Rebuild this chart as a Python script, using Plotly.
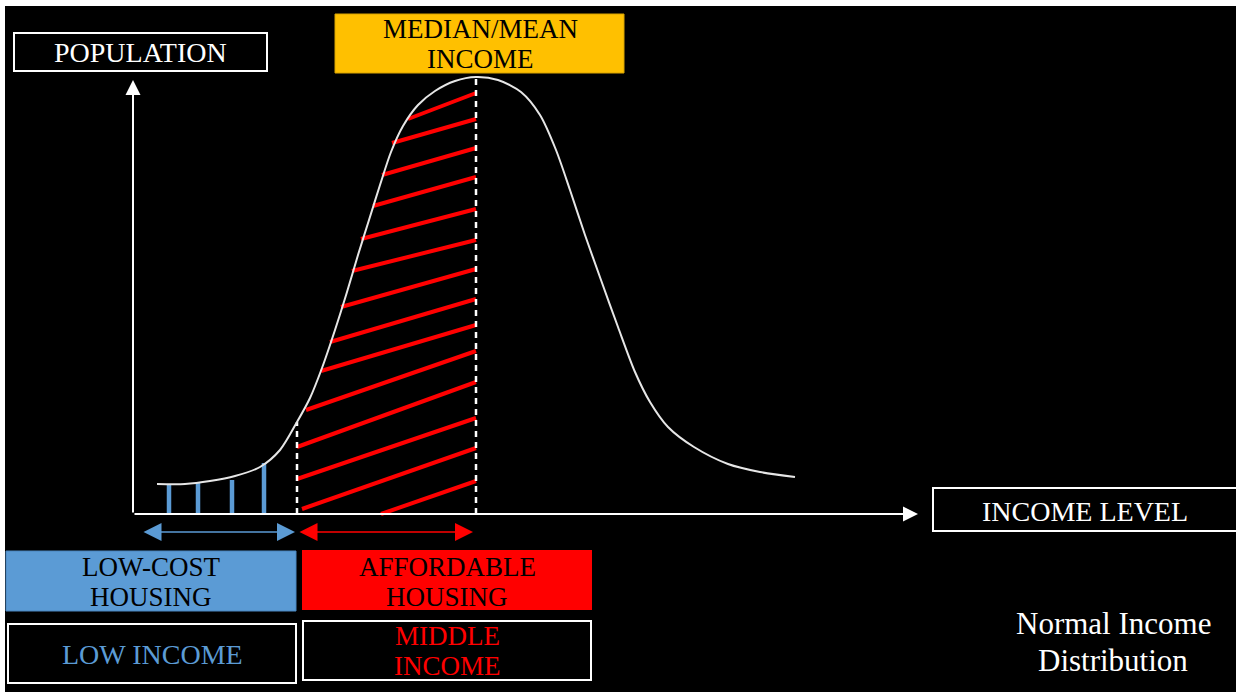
import numpy as np
import plotly.graph_objects as go

# ---------------- data (income level vs population, arbitrary units) ----------------
curve_income = [24, 52, 77, 102, 127, 147, 164, 177, 189, 202, 214, 225, 236, 247, 258,
                270, 285, 302, 322, 343, 365, 388, 407, 423, 437, 452, 468, 485, 502,
                517, 535, 561, 595, 627, 662]
curve_population = [30, 30, 33, 38, 47, 64, 92, 116, 146, 184, 222, 259, 294, 329, 362,
                    388, 409, 423, 433, 437, 434, 422, 399, 364, 324, 279, 234, 187, 142,
                    112, 87, 67, 50, 42, 37]

median_income = 343          # median / mean income
low_income_limit = 164       # boundary between low and middle income

# hatching of the middle-income band: start point (income, population) and end population at median
hatch_x0 = [275, 259, 249, 240, 228, 219, 208, 197, 188, 173, 164, 164, 169, 248]
hatch_y0 = [395, 371, 339, 308, 275, 243, 207, 172, 143, 104, 67, 35, 5, 0]
hatch_y1 = [421, 395, 366, 337, 305, 274, 245, 215, 189, 163, 132, 96, 66, 33]

# low-income bars
bar_income = [36, 65, 99, 131]
bar_population = [29, 31, 34, 51]

# ---------------- helpers to place decorations (screen px -> data coords) ----------------
OX, OY = 133, 514


def X(px):
    return px - OX


def Y(py):
    return OY - py


BLUE = "#5B9BD5"
RED = "#FF0000"
GOLD = "#FFC000"
FONT = "Liberation Serif"

fig = go.Figure()

# hatch lines
hx, hy = [], []
for x0, y0, y1 in zip(hatch_x0, hatch_y0, hatch_y1):
    hx += [x0, median_income, None]
    hy += [y0, y1, None]
fig.add_trace(go.Scatter(x=hx, y=hy, mode="lines", line=dict(color=RED, width=4),
                         hoverinfo="skip"))

# blue bars
bx, by = [], []
for x, h in zip(bar_income, bar_population):
    bx += [x, x, None]
    by += [-1, h, None]
fig.add_trace(go.Scatter(x=bx, y=by, mode="lines", line=dict(color=BLUE, width=4.5),
                         hoverinfo="skip"))

# dashed lines
top_low = float(np.interp(low_income_limit, curve_income, curve_population))
top_med = float(np.interp(median_income, curve_income, curve_population))
fig.add_trace(go.Scatter(x=[low_income_limit, low_income_limit], y=[0, top_low], mode="lines",
                         line=dict(color="white", width=2.5, dash="6px,5px"), hoverinfo="skip"))
fig.add_trace(go.Scatter(x=[median_income, median_income], y=[0, top_med], mode="lines",
                         line=dict(color="white", width=2.5, dash="6px,5px"), hoverinfo="skip"))

# distribution curve
fig.add_trace(go.Scatter(x=curve_income, y=curve_population, mode="lines",
                         line=dict(color="#E6E6E6", width=2, shape="spline", smoothing=0.8),
                         hoverinfo="skip"))

shapes = [
    # black slide background
    dict(type="rect", xref="paper", yref="paper", x0=5 / 1241, x1=1236 / 1241, y0=0,
         y1=(692 - 6) / 692, fillcolor="black", line=dict(width=0), layer="below"),
    # boxes
    dict(type="rect", x0=X(14), x1=X(267), y0=Y(33), y1=Y(71), line=dict(color="white", width=2)),
    dict(type="rect", x0=X(335), x1=X(624), y0=Y(14), y1=Y(73), fillcolor=GOLD,
         line=dict(color="#D9A300", width=1), layer="below"),
    dict(type="rect", x0=X(933), x1=X(1237), y0=Y(488), y1=Y(531), line=dict(color="white", width=2)),
    dict(type="rect", x0=X(6), x1=X(296), y0=Y(551), y1=Y(611), fillcolor=BLUE,
         line=dict(color="#4A86BF", width=1), layer="below"),
    dict(type="rect", x0=X(302), x1=X(592), y0=Y(550), y1=Y(610), fillcolor=RED,
         line=dict(width=0), layer="below"),
    dict(type="rect", x0=X(8), x1=X(296), y0=Y(624), y1=Y(683), line=dict(color="white", width=2)),
    dict(type="rect", x0=X(303), x1=X(591), y0=Y(621), y1=Y(680), line=dict(color="white", width=2)),
]

annotations = []


def label(text, px, py, color, size=27):
    annotations.append(dict(text=text, x=X(px), y=Y(py), showarrow=False, xanchor="center",
                            yanchor="middle", font=dict(family=FONT, size=size, color=color)))


label("POPULATION", 140, 52, "white", 28)
label("MEDIAN/MEAN", 480, 28.5, "black")
label("INCOME", 480, 59, "black")
label("INCOME LEVEL", 1085, 511, "white", 28)
label("LOW-COST", 151, 566.5, "black")
label("HOUSING", 151, 597, "black")
label("AFFORDABLE", 447, 566.5, "black")
label("HOUSING", 447, 597, "black")
label("LOW INCOME", 152, 654, BLUE, 28)
label("MIDDLE", 447, 635.5, RED)
label("INCOME", 447, 666, RED)
label("Normal Income", 1113, 623, "white", 31)
label("Distribution", 1113, 660, "white", 31)


def arrow(x0, y0, x1, y1, color, width, size, side="end"):
    annotations.append(dict(x=x1, y=y1, ax=x0, ay=y0, xref="x", yref="y", axref="x", ayref="y",
                            text="", showarrow=True, arrowhead=2, startarrowhead=2,
                            arrowsize=size, startarrowsize=size, arrowwidth=width,
                            arrowcolor=color, arrowside=side, standoff=0, startstandoff=0))


# axes
arrow(0, 0, 0, Y(80), "white", 2, 1.5)
arrow(0, 0, X(918), 0, "white", 2, 1.5)
# range arrows
arrow(X(142), Y(532), X(295), Y(532), BLUE, 1.5, 2.4, "end+start")
arrow(X(298), Y(532), X(473), Y(532), RED, 1.5, 2.4, "end+start")

fig.update_layout(
    width=1241, height=692,
    margin=dict(l=0, r=0, t=0, b=0),
    paper_bgcolor="white", plot_bgcolor="white",
    showlegend=False,
    xaxis=dict(range=[X(0), X(1241)], visible=False, fixedrange=True),
    yaxis=dict(range=[Y(692), Y(0)], visible=False, fixedrange=True),
    shapes=shapes,
    annotations=annotations,
)

fig.write_html(
    "out.html",
    config={"displayModeBar": False},
    post_script="document.body.style.margin='0';document.body.style.overflow='hidden';",
)
